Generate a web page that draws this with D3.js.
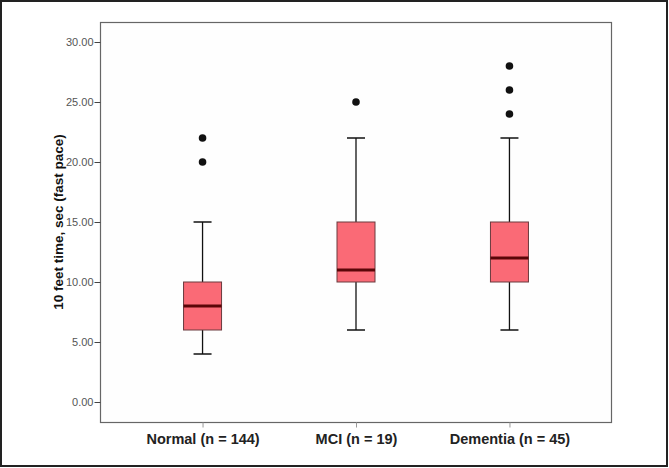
<!DOCTYPE html>
<html><head><meta charset="utf-8">
<script src="https://cdn.jsdelivr.net/npm/d3@7"></script>
<style>html,body{margin:0;padding:0;background:#fff;}svg{display:block;}</style>
</head><body>
<script>
const categories = ["Normal (n = 144)", "MCI (n = 19)", "Dementia (n = 45)"];
const mins    = [4, 6, 6];
const q1s     = [6, 10, 10];
const medians = [8, 11, 12];
const q3s     = [10, 15, 15];
const maxs    = [15, 22, 22];
const outliers = [[20, 22], [25], [24, 26, 28]];
const yTicks = [0, 5, 10, 15, 20, 25, 30];
const yTitle = "10 feet time, sec (fast pace)";

const W = 669, H = 468;
const svg = d3.select("body").append("svg").attr("width", W).attr("height", H);

// outer border
svg.append("rect").attr("x", 1).attr("y", 1).attr("width", W - 3).attr("height", H - 3)
  .attr("fill", "#fff").attr("stroke", "#222").attr("stroke-width", 2);

const L = 100.5, R = 611.5, T = 22.5, B = 422.5;
const y = d3.scaleLinear().domain([0, 30]).range([402, 42]);
const x = d3.scalePoint().domain(categories).range([L, R]).padding(0.665);

// plot frame
svg.append("rect").attr("x", L).attr("y", T).attr("width", R - L).attr("height", B - T)
  .attr("fill", "#fefefe").attr("stroke", "#666").attr("stroke-width", 1.2);

// y axis
const yAxis = d3.axisLeft(y).tickValues(yTicks).tickFormat(d3.format(".2f")).tickSize(6).tickSizeOuter(0);
const gy = svg.append("g").attr("transform", `translate(${L},0)`).call(yAxis);
gy.select(".domain").remove();
gy.selectAll("line").attr("stroke", "#444");
gy.selectAll("text").attr("font-family", "Arial, 'Liberation Sans', sans-serif").attr("font-size", 11)
  .attr("fill", "#555").attr("x", -7);

// x axis
const xAxis = d3.axisBottom(x).tickSize(5).tickSizeOuter(0);
const gx = svg.append("g").attr("transform", `translate(0,${B})`).call(xAxis);
gx.select(".domain").remove();
gx.selectAll("line").attr("stroke", "#999");
gx.selectAll("text").attr("font-family", "Arial, 'Liberation Sans', sans-serif").attr("font-size", 14.5)
  .attr("font-weight", "bold").attr("fill", "#222").attr("dy", 0).attr("y", 21);

// y title
svg.append("text").attr("transform", `translate(63,222) rotate(-90)`).attr("text-anchor", "middle")
  .attr("font-family", "Arial, 'Liberation Sans', sans-serif").attr("font-size", 13.5).attr("font-weight", "bold")
  .attr("fill", "#111").text(yTitle);

const boxW = 38, capW = 18;
const data = categories.map((c, i) => ({c, min: mins[i], q1: q1s[i], med: medians[i], q3: q3s[i], max: maxs[i], out: outliers[i]}));
const g = svg.selectAll("g.box").data(data).enter().append("g").attr("class", "box");

// whiskers
g.append("line").attr("x1", d => x(d.c)).attr("x2", d => x(d.c)).attr("y1", d => y(d.max)).attr("y2", d => y(d.q3))
  .attr("stroke", "#111").attr("stroke-width", 1.3);
g.append("line").attr("x1", d => x(d.c)).attr("x2", d => x(d.c)).attr("y1", d => y(d.q1)).attr("y2", d => y(d.min))
  .attr("stroke", "#111").attr("stroke-width", 1.3);
g.append("line").attr("x1", d => x(d.c) - capW / 2).attr("x2", d => x(d.c) + capW / 2).attr("y1", d => y(d.max)).attr("y2", d => y(d.max))
  .attr("stroke", "#111").attr("stroke-width", 1.5);
g.append("line").attr("x1", d => x(d.c) - capW / 2).attr("x2", d => x(d.c) + capW / 2).attr("y1", d => y(d.min)).attr("y2", d => y(d.min))
  .attr("stroke", "#111").attr("stroke-width", 1.5);

// box
g.append("rect").attr("x", d => x(d.c) - boxW / 2).attr("width", boxW)
  .attr("y", d => y(d.q3)).attr("height", d => y(d.q1) - y(d.q3))
  .attr("fill", "#fa6a76").attr("stroke", "#6a3a3e").attr("stroke-width", 1);

// median
g.append("line").attr("x1", d => x(d.c) - boxW / 2).attr("x2", d => x(d.c) + boxW / 2)
  .attr("y1", d => y(d.med)).attr("y2", d => y(d.med))
  .attr("stroke", "#5a0608").attr("stroke-width", 3);

// outliers
g.selectAll("circle").data(d => d.out.map(v => ({c: d.c, v}))).enter().append("circle")
  .attr("cx", d => x(d.c)).attr("cy", d => y(d.v)).attr("r", 3.8).attr("fill", "#111");
</script>
</body></html>
